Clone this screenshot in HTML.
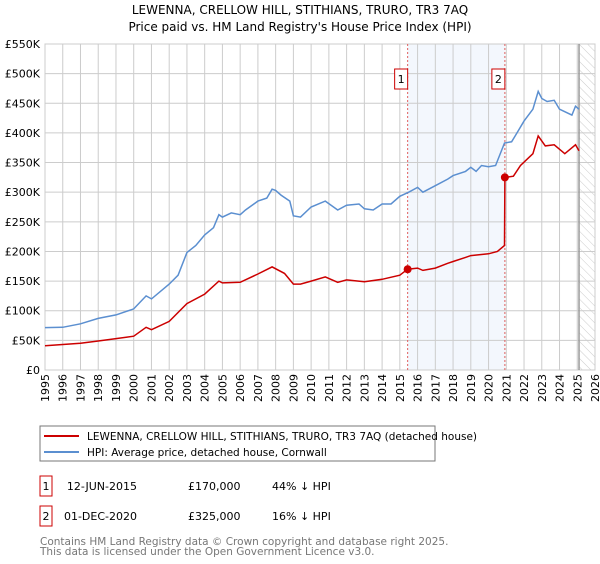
<!DOCTYPE html>
<html><head><meta charset="utf-8"><style>
body{margin:0;background:#fff;font-family:"DejaVu Sans","Liberation Sans",sans-serif;}
svg text{font-family:"DejaVu Sans","Liberation Sans",sans-serif;}
</style></head><body>
<svg width="600" height="560" xmlns="http://www.w3.org/2000/svg">
<defs><pattern id="hatch" width="6" height="6" patternUnits="userSpaceOnUse" patternTransform="rotate(-45)"><line x1="0" y1="0" x2="0" y2="6" stroke="#ccc" stroke-width="1"/></pattern></defs>
<text x="300" y="14" text-anchor="middle" font-size="12">LEWENNA, CRELLOW HILL, STITHIANS, TRURO, TR3 7AQ</text>
<text x="300" y="31" text-anchor="middle" font-size="12">Price paid vs. HM Land Registry's House Price Index (HPI)</text>
<g id="plot"></g>
<g>
<rect x="40" y="426" width="395" height="35" fill="#fff" stroke="#777"/>
<line x1="44" y1="436" x2="79" y2="436" stroke="#cc0000" stroke-width="2"/>
<text x="87" y="440" font-size="10.5">LEWENNA, CRELLOW HILL, STITHIANS, TRURO, TR3 7AQ (detached house)</text>
<line x1="44" y1="452" x2="79" y2="452" stroke="#5b8fd0" stroke-width="2"/>
<text x="87" y="456" font-size="10.5">HPI: Average price, detached house, Cornwall</text>
</g>
<g font-size="11">
<rect x="40" y="476" width="12" height="20" fill="#fff" stroke="#cc0000"/><text x="46" y="490" text-anchor="middle">1</text>
<text x="137" y="490" text-anchor="end">12-JUN-2015</text><text x="188" y="490">£170,000</text><text x="272" y="490">44% ↓ HPI</text>
<rect x="40" y="506" width="12" height="20" fill="#fff" stroke="#cc0000"/><text x="46" y="520" text-anchor="middle">2</text>
<text x="137" y="520" text-anchor="end">01-DEC-2020</text><text x="188" y="520">£325,000</text><text x="272" y="520">16% ↓ HPI</text>
</g>
<text x="40" y="545" font-size="10.5" fill="#777">Contains HM Land Registry data © Crown copyright and database right 2025.</text>
<text x="40" y="555" font-size="10.5" fill="#777">This data is licensed under the Open Government Licence v3.0.</text>
</svg>
<script>
const yTicks=[0,50,100,150,200,250,300,350,400,450,500,550];
const yTickLabels=["£0","£50K","£100K","£150K","£200K","£250K","£300K","£350K","£400K","£450K","£500K","£550K"];
const xYears=[1995,1996,1997,1998,1999,2000,2001,2002,2003,2004,2005,2006,2007,2008,2009,2010,2011,2012,2013,2014,2015,2016,2017,2018,2019,2020,2021,2022,2023,2024,2025,2026];
const hpiT=[1995,1996,1997,1998,1999,2000,2000.7,2001,2002,2002.5,2003,2003.5,2004,2004.5,2004.8,2005,2005.5,2006,2006.3,2007,2007.5,2007.8,2008,2008.3,2008.8,2009,2009.4,2010,2010.8,2011.5,2012,2012.7,2013,2013.5,2014,2014.5,2015,2015.5,2016,2016.3,2017,2017.7,2018,2018.7,2019,2019.3,2019.6,2020,2020.4,2020.9,2021.3,2021.5,2022,2022.5,2022.8,2023,2023.3,2023.7,2024,2024.7,2024.9,2025.1];
const hpiV=[71.5,72,78,87,93,103,125,120,145,160,198,210,228,240,262,258,265,262,270,285,290,305,303,295,285,260,258,275,285,270,278,280,272,270,280,280,293,300,308,300,311,322,328,335,342,335,345,343,345,383,385,395,420,440,470,458,453,455,440,430,445,440];
const ppT=[1995,1997,1998,1999,2000,2000.7,2001,2002,2003,2004,2004.8,2005,2006,2007,2007.8,2008.5,2009,2009.4,2010,2010.8,2011.5,2012,2013,2014,2015,2015.44,2016,2016.3,2017,2017.7,2018,2018.7,2019,2020,2020.5,2020.9,2020.92,2021.4,2021.8,2022.5,2022.8,2023.2,2023.7,2024.3,2024.9,2025.1];
const ppV=[41,45,49,53,57,72,68,82,112,128,150,147,148,162,174,163,145,145,150,157,148,152,149,153,160,170,172,168,172,180,183,190,193,196,200,210,325,327,345,365,395,378,380,365,380,370];
const saleT=[2015.44,2020.92];
const saleV=[170,325];
const saleLbl=["1","2"];
const L=45,R=595,T=44,B=370;
const x=t=>L+(t-1995)/31*(R-L);
const y=v=>B-v/550*(B-T);
const g=document.getElementById('plot');
const NS='http://www.w3.org/2000/svg';
function mk(tag,a,p){const e=document.createElementNS(NS,tag);for(const k in a)e.setAttribute(k,a[k]);(p||g).appendChild(e);return e;}
let bg=mk('rect',{x:L,y:T,width:R-L,height:B-T,fill:'#fff',stroke:'#ccc'});


let sh=mk('rect',{x:x(saleT[0]),y:T,width:x(saleT[1])-x(saleT[0]),height:B-T,fill:'#f3f7fd',opacity:1});


let ht=mk('rect',{x:x(2025.1),y:T,width:R-x(2025.1),height:B-T,fill:'url(#hatch)'});


xYears.forEach(t=>{let l=mk('line',{x1:x(t),x2:x(t),y1:T,y2:B,stroke:'#ccc'});


let tx=mk('text',{x:0,y:0,'font-size':11,'text-anchor':'end',transform:`translate(${x(t)+4},374) rotate(-90)`});tx.textContent=t;

});
yTicks.forEach((v,i)=>{let l=mk('line',{x1:L,x2:R,y1:y(v),y2:y(v),stroke:'#ccc'});


let tx=mk('text',{x:40,y:y(v)+4,'font-size':11,'text-anchor':'end'});tx.textContent=yTickLabels[i];

});
let vl=mk('line',{x1:x(2025.1),x2:x(2025.1),y1:T,y2:B,stroke:'#999','stroke-width':1.5});


saleT.forEach((t,i)=>{let l=mk('line',{x1:x(t),x2:x(t),y1:T,y2:B,stroke:'#e06060','stroke-dasharray':'2,2'});


let r=mk('rect',{x:x(t)-13,y:69,width:13,height:20,fill:'#fff',stroke:'#cc0000'});


let tx=mk('text',{x:x(t)-6.5,y:83,'font-size':11,'text-anchor':'middle'});tx.textContent=saleLbl[i];

});
const pts=(ts,vs)=>ts.map((t,i)=>x(t).toFixed(1)+','+y(vs[i]).toFixed(1)).join(' ');
let hp=mk('polyline',{points:pts(hpiT,hpiV),fill:'none',stroke:'#5b8fd0','stroke-width':1.5});


let pp=mk('polyline',{points:pts(ppT,ppV),fill:'none',stroke:'#cc0000','stroke-width':1.5});


saleT.forEach((t,i)=>{let c=mk('circle',{cx:x(t),cy:y(saleV[i]),r:4,fill:'#cc0000'});

});
</script>
</body></html>
